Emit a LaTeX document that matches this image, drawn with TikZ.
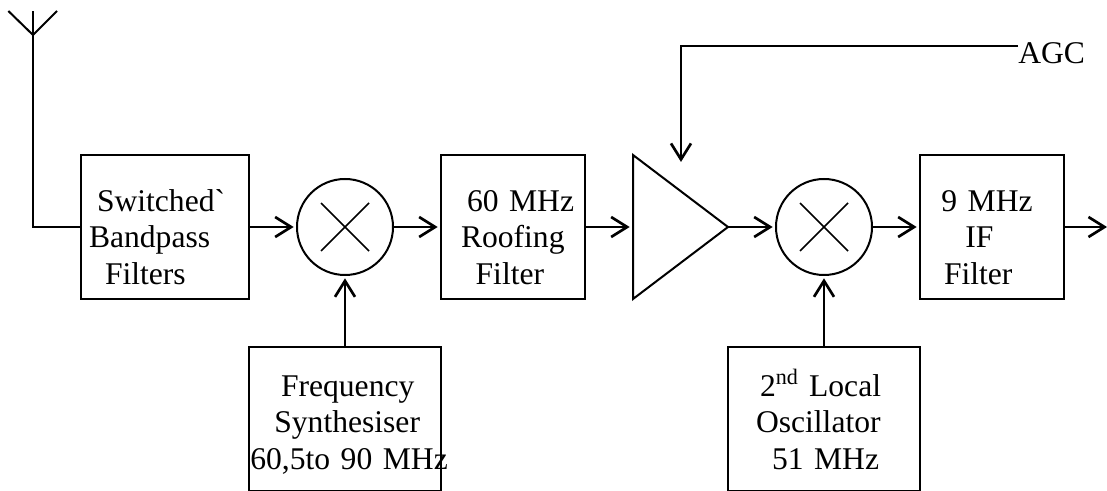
\documentclass[tikz,border=0pt]{standalone}
\usepackage{fontspec}
\setmainfont{Liberation Serif}
\usepackage{tikz}
\usetikzlibrary{shapes.geometric, arrows.meta, positioning}

\newcommand{\boxline}[2]{\hspace*{#1}\mbox{\rule[-6pt]{0pt}{17pt}#2}}
\newcommand{\upperpad}{\rule{0pt}{37.5pt}}
\newcommand{\lowerpad}{\rule{0pt}{27pt}}

\tikzset{
    blockbox/.style={rectangle, draw, line width=1.5pt, inner sep=0pt, outer sep=0pt, minimum height=108pt, align=left},
    mixer/.style={circle, draw, line width=1.5pt, inner sep=0pt, outer sep=0pt, minimum size=72pt,
        path picture={
            \draw[line width=1.2pt] ([shift={(-18pt,-18pt)}]path picture bounding box.center) -- ([shift={(18pt,18pt)}]path picture bounding box.center);
            \draw[line width=1.2pt] ([shift={(-18pt,18pt)}]path picture bounding box.center) -- ([shift={(18pt,-18pt)}]path picture bounding box.center);
        }},
    flowarrow/.style={-{Straight Barb[length=12pt,width=15pt]}, line width=2pt, shorten >=2.5pt},
    plainwire/.style={line width=1.5pt}
}

\begin{document}
\begin{tikzpicture}[node distance=36pt and 36pt, font=\fontsize{23.7pt}{27.2pt}\selectfont]
    \useasboundingbox (0,0) rectangle (830.25pt,-368.25pt);

    \node (bandpass) [blockbox, text width=126pt] at (123.75pt,-170.25pt) {\boxline{12pt}{\upperpad Switched\XeTeXglyph\XeTeXcharglyph"0060 }\\\boxline{6pt}{Bandpass}\\\boxline{18pt}{Filters}};
    \node (mixa) [mixer, right=of bandpass] {};
    \node (roofing) [blockbox, text width=108pt, right=of mixa] {\boxline{19.5pt}{\upperpad 60 MHz}\\\boxline{15pt}{Roofing}\\\boxline{26pt}{Filter}};
    \node (amp) [isosceles triangle, isosceles triangle stretches, draw, line width=1.5pt, inner sep=0pt, outer sep=0pt, minimum width=108pt, minimum height=71.25pt, right=of roofing] {};
    \node (mixb) [mixer, right=of amp] {};
    \node (iffilter) [blockbox, text width=108pt, right=of mixb] {\boxline{16pt}{\upperpad 9 MHz}\\\boxline{34pt}{IF}\\\boxline{18pt}{Filter}};

    \node (synth) [blockbox, text width=144pt, below=54pt of mixa] {\boxline{24pt}{\lowerpad Frequency}\\\boxline{19pt}{Synthesiser}\\\boxline{1pt}{60,5to 90 MHz}};
    \node (localosc) [blockbox, text width=144pt, below=54pt of mixb] {\boxline{24pt}{\lowerpad 2\textsuperscript{nd} Local}\\\boxline{21pt}{Oscillator}\\\boxline{33pt}{51 MHz}};

    \node (agc) [anchor=base west, inner sep=0pt] at (763.5pt,-48pt) {AGC};

    \coordinate (antbase) at ([xshift=-36pt]bandpass.west);
    \coordinate (anttip) at (antbase |- 0,-8.25pt);
    \coordinate (antjoint) at (antbase |- 0,-26.25pt);
    \coordinate (antleft) at ([xshift=-18.5pt]anttip);
    \coordinate (antright) at ([xshift=18pt]anttip);
    \coordinate (agcin) at ([xshift=36pt,yshift=46.3pt]amp.west);
    \coordinate (outend) at (830.25pt,0 |- iffilter.east);

    \draw [plainwire] (bandpass.west) -- (antbase) -- (anttip);
    \draw [plainwire] (antleft) -- (antjoint) -- (antright);

    \draw [flowarrow] (bandpass) -- (mixa);
    \draw [flowarrow] (mixa) -- (roofing);
    \draw [flowarrow] (roofing) -- (amp.west);
    \draw [flowarrow] (amp.apex) -- (mixb);
    \draw [flowarrow] (mixb) -- (iffilter);
    \draw [flowarrow, shorten >=0pt] (iffilter) -- (outend);
    \draw [flowarrow] (synth) -- (mixa);
    \draw [flowarrow] (localosc) -- (mixb);
    \draw [flowarrow] ([yshift=-2.5pt]agc.north west) -| (agcin);
\end{tikzpicture}
\end{document}
